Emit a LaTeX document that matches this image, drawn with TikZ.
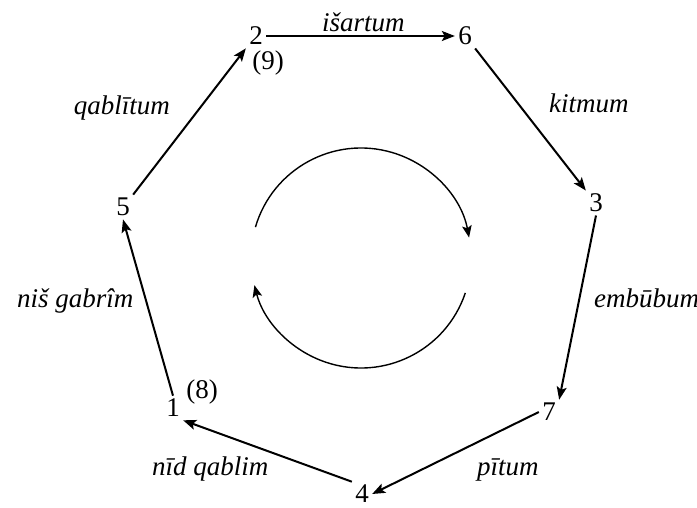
\documentclass[tikz,border=0pt]{standalone}
\usepackage{fontspec}
\setmainfont{Liberation Serif}
\usetikzlibrary{arrows.meta}

\begin{document}
\begin{tikzpicture}[x=0.5pt,y=-0.5pt,
  every node/.style={font=\fontsize{13.5}{16}\selectfont},
  stage/.style={inner sep=1.5pt},
  link/.style={-{Stealth[length=6.5pt,width=5pt,inset=1.4pt]}, line width=1pt},
  spin/.style={-{Stealth[length=6pt,width=4.8pt,inset=1.3pt]}, line width=0.7pt},
  steplabel/.style={font=\fontsize{13.5}{16}\selectfont\itshape, anchor=base west}]
  \useasboundingbox (0,0) rectangle (697,508);

  % stages of the cycle
  \node[stage] (n2) at (256,36) {2};
  \node[stage] (n6) at (465,36) {6};
  \node[stage] (n3) at (596,203) {3};
  \node[stage] (n7) at (549,412) {7};
  \node[stage] (n4) at (362,494) {4};
  \node[stage] (n1) at (173,408) {1};
  \node[stage] (n5) at (123,207) {5};
  \node (alt9) at (268,63) {(9)};
  \node (alt8) at (202,392) {(8)};

  % steps between them
  \draw[link] (n2.east) -- (n6.west);
  \draw[link] (n6.south east) -- (n3.north west);
  \draw[link] (n3.south) -- (n7.north east);
  \draw[link] (n7.west) -- (n4.east);
  \draw[link] (n4.north west) -- (n1.south east);
  \draw[link] (n1.north) -- (n5.south);
  \draw[link] (n5.north east) -- (n2.south west);

  % step names
  \node[steplabel] (l26) at (315,32) {išartum};
  \node[steplabel] (l63) at (542,113) {kitmum};
  \node[steplabel] (l37) at (587,307) {embūbum};
  \node[steplabel] (l74) at (470,475) {pītum};
  \node[steplabel] (l41) at (145,475) {nīd qablim};
  \node[steplabel] (l15) at (10,307) {niš gabrîm};
  \node[steplabel, anchor=base east] (l52) at (177,115) {qablītum};

  % direction of the cycle
  \coordinate (hub) at (361,258);
  \draw[spin] (hub) ++(-163.7:110) arc[start angle=-163.7, end angle=-10.7, radius=110];
  \draw[spin] (hub) ++(18.5:110) arc[start angle=18.5, end angle=165.7, radius=110];
\end{tikzpicture}
\end{document}
